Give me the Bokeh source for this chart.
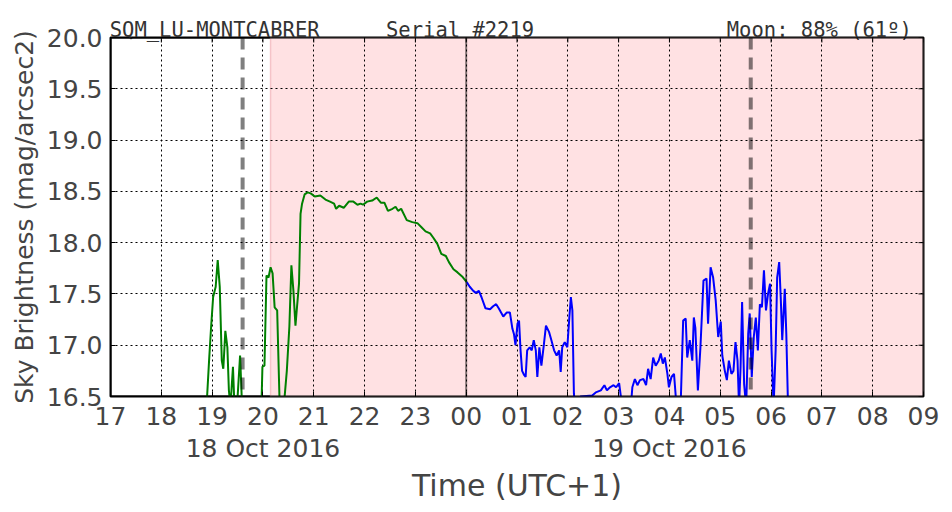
import math
from bokeh.plotting import figure
from bokeh.models import Range1d, FixedTicker, LinearAxis, Span, BoxAnnotation, Grid
from bokeh.embed import file_html
from bokeh.resources import INLINE

# ---- data ----
hour_ticks = list(range(17, 34))
hour_labels = ["17", "18", "19", "20", "21", "22", "23", "00", "01", "02",
               "03", "04", "05", "06", "07", "08", "09"]
date_ticks = [20, 28]
date_labels = ["18 Oct 2016", "19 Oct 2016"]
mag_ticks = [16.5, 17.0, 17.5, 18.0, 18.5, 19.0, 19.5, 20.0]
mag_labels = ["16.5", "17.0", "17.5", "18.0", "18.5", "19.0", "19.5", "20.0"]

header_texts = ["SQM_LU-MONTCABRER", "Serial #2219", "Moon: 88% (61º)"]
header_pos = [19.05, 23.88, 30.95]   # text centres along the time axis

night_start = 20.15          # shaded (night) period start
moon_events = [19.6, 29.6]   # dashed markers
midnight = 24.0

green_t = [18.89, 18.94, 18.98, 19.02, 19.07, 19.11, 19.15, 19.19, 19.22, 19.26,
           19.30, 19.33, 19.36, 19.41, 19.44, 19.49, 19.55, 19.59, 19.97, 19.99,
           20.03, 20.07, 20.11, 20.15, 20.19, 20.23, 20.28, 20.33, 20.41, 20.47,
           20.52, 20.56, 20.60, 20.64, 20.67, 20.71, 20.74, 20.77, 20.82, 20.88,
           20.94, 21.02, 21.13, 21.23, 21.32, 21.40, 21.44, 21.50, 21.59, 21.69,
           21.78, 21.86, 21.92, 21.97, 22.05, 22.15, 22.24, 22.32, 22.39, 22.46,
           22.55, 22.61, 22.66, 22.72, 22.83, 22.94, 23.04, 23.12, 23.20, 23.29,
           23.35, 23.43, 23.51, 23.60, 23.66, 23.75, 23.83, 23.92, 24.01]
green_v = [16.40, 16.85, 17.18, 17.47, 17.57, 17.83, 17.57, 16.85, 16.77, 17.14,
           16.98, 16.56, 16.40, 16.79, 16.40, 16.40, 16.90, 16.40, 16.40, 16.79,
           16.80, 17.68, 17.66, 17.76, 17.70, 17.37, 17.34, 16.40, 16.40, 16.75,
           17.18, 17.78, 17.53, 17.19, 17.37, 17.60, 18.28, 18.38, 18.47, 18.49,
           18.48, 18.45, 18.46, 18.42, 18.40, 18.38, 18.33, 18.36, 18.34, 18.40,
           18.40, 18.37, 18.38, 18.37, 18.40, 18.41, 18.44, 18.39, 18.39, 18.31,
           18.33, 18.35, 18.31, 18.33, 18.22, 18.20, 18.19, 18.15, 18.11, 18.09,
           18.05, 17.99, 17.89, 17.87, 17.81, 17.74, 17.71, 17.67, 17.615]

blue_t = [24.01, 24.07, 24.14, 24.19, 24.25, 24.30, 24.38, 24.47, 24.53, 24.59,
          24.64, 24.73, 24.80, 24.86, 24.91, 24.94, 24.97, 25.01, 25.04, 25.07,
          25.10, 25.14, 25.17, 25.20, 25.25, 25.29, 25.33, 25.37, 25.40, 25.44,
          25.48, 25.53, 25.57, 25.63, 25.67, 25.73, 25.78, 25.83, 25.86, 25.89,
          25.94, 25.99, 26.03, 26.06, 26.09, 26.12, 26.14, 26.22, 26.25, 26.48,
          26.55, 26.65, 26.72, 26.77, 26.83, 26.90, 26.95, 27.01, 27.07, 27.24,
          27.27, 27.32, 27.37, 27.42, 27.49, 27.54, 27.58, 27.63, 27.68, 27.73,
          27.79, 27.83, 27.87, 27.91, 27.96, 27.99, 28.04, 28.09, 28.14, 28.22,
          28.27, 28.32, 28.35, 28.40, 28.45, 28.48, 28.51, 28.56, 28.61, 28.67,
          28.73, 28.76, 28.81, 28.86, 28.91, 28.96, 29.01, 29.04, 29.09, 29.13,
          29.17, 29.22, 29.26, 29.30, 29.34, 29.37, 29.40, 29.43, 29.47, 29.51,
          29.55, 29.58, 29.62, 29.66, 29.70, 29.74, 29.78, 29.82, 29.86, 29.90,
          29.94, 29.98, 30.01, 30.05, 30.09, 30.12, 30.16, 30.19, 30.22, 30.27,
          30.30, 30.33, 30.36]
blue_v = [17.615, 17.57, 17.53, 17.51, 17.53, 17.47, 17.36, 17.35, 17.38, 17.40,
          17.36, 17.28, 17.32, 17.32, 17.16, 17.11, 17.00, 17.21, 17.24, 16.95,
          16.75, 16.71, 16.69, 16.95, 16.98, 16.95, 17.05, 16.95, 16.69, 16.98,
          16.80, 17.01, 17.19, 17.13, 17.06, 16.95, 16.90, 16.95, 16.74, 16.98,
          17.03, 16.98, 17.27, 17.47, 17.34, 16.53, 16.40, 16.40, 16.50, 16.51,
          16.54, 16.56, 16.61, 16.56, 16.59, 16.61, 16.59, 16.63, 16.40, 16.40,
          16.59, 16.67, 16.61, 16.66, 16.67, 16.61, 16.77, 16.67, 16.88, 16.80,
          16.85, 16.92, 16.82, 16.88, 16.72, 16.59, 16.69, 16.72, 16.40, 16.40,
          17.24, 17.26, 16.88, 17.05, 16.85, 17.27, 17.17, 16.56, 16.98, 17.63,
          17.65, 17.21, 17.76, 17.66, 17.44, 17.08, 17.23, 16.90, 16.75, 16.66,
          16.85, 16.72, 16.75, 17.03, 16.85, 16.40, 16.79, 17.42, 16.62, 16.40,
          17.11, 17.31, 16.69, 17.08, 17.27, 16.95, 17.40, 17.37, 17.73, 17.34,
          17.50, 17.60, 16.95, 16.40, 16.95, 17.66, 17.81, 17.47, 17.05, 17.55,
          17.11, 16.49, 16.40]

FONT = "DejaVu Sans"
MONO = "DejaVu Sans Mono"
x0, x1 = hour_ticks[0], hour_ticks[-1]
y0, y1 = mag_ticks[0], mag_ticks[-1]

p = figure(width=952, height=512, x_range=Range1d(x0, x1), y_range=Range1d(y0, y1),
           output_backend="svg", toolbar_location=None, x_axis_type=None, y_axis_type=None,
           min_border_left=110, min_border_right=29, min_border_top=37, min_border_bottom=116,
           background_fill_color="white", border_fill_color="white")
p.outline_line_color = "black"
p.outline_line_width = 2

# shaded night
p.add_layout(BoxAnnotation(left=night_start, fill_color="#ffe1e3", fill_alpha=1.0,
                           line_color=None, level="underlay"))
p.add_layout(Span(location=night_start, dimension="height", line_color="#f5c3c8",
                  line_width=1.5, level="underlay"))

xt = FixedTicker(ticks=hour_ticks)
yt = FixedTicker(ticks=mag_ticks)

for dim, tk in ((0, xt), (1, yt)):
    p.add_layout(Grid(dimension=dim, ticker=tk, grid_line_color="black", grid_line_dash="2 3",
                      grid_line_width=1, level="underlay"))

p.line(green_t, green_v, line_color="#008000", line_width=2)
p.line(blue_t, blue_v, line_color="#0000ff", line_width=2)

for m in moon_events:
    p.add_layout(Span(location=m, dimension="height", line_color="black", line_alpha=0.5,
                      line_width=4, line_dash="12 8"))
p.add_layout(Span(location=midnight, dimension="height", line_color="black", line_alpha=0.5,
                  line_width=2))

# inner tick marks on the top and right edges
p.scatter(x=hour_ticks, y=[y1] * len(hour_ticks), marker="dash", size=10,
          angle=math.pi / 2, line_color="black", line_width=1)
p.scatter(x=[x1] * len(mag_ticks), y=mag_ticks, marker="dash", size=10,
          line_color="black", line_width=1)

# frame drawn on top of the shading
p.add_layout(Span(location=x0, dimension="height", line_color="black", line_width=2))
p.add_layout(Span(location=x1, dimension="height", line_color="black", line_width=2))
p.add_layout(Span(location=y0, dimension="width", line_color="black", line_width=2))
p.add_layout(Span(location=y1, dimension="width", line_color="black", line_width=2))

def style_ticks(ax):
    ax.major_tick_in = 5
    ax.major_tick_out = 0
    ax.minor_tick_line_color = None
    ax.axis_line_color = None
    ax.major_tick_line_color = "black"
    ax.major_tick_line_width = 1

xaxis = LinearAxis(ticker=xt, major_label_overrides=dict(zip(hour_ticks, hour_labels)))
style_ticks(xaxis)
xaxis.major_label_text_font = FONT
xaxis.major_label_text_font_size = "25px"
xaxis.major_label_standoff = 10
p.add_layout(xaxis, "below")

daxis = LinearAxis(ticker=FixedTicker(ticks=date_ticks),
                   major_label_overrides=dict(zip(date_ticks, date_labels)),
                   axis_label="Time (UTC+1)")
daxis.major_tick_line_color = None
daxis.minor_tick_line_color = None
daxis.axis_line_color = None
daxis.major_label_standoff = 0
daxis.major_label_text_font = FONT
daxis.major_label_text_font_size = "25px"
daxis.axis_label_text_font = FONT
daxis.axis_label_text_font_size = "30px"
daxis.axis_label_text_font_style = "normal"
daxis.axis_label_standoff = 2
p.add_layout(daxis, "below")

yaxis = LinearAxis(ticker=yt, major_label_overrides=dict(zip(mag_ticks, mag_labels)),
                   axis_label="Sky Brightness (mag/arcsec2)")
style_ticks(yaxis)
yaxis.major_label_text_font = FONT
yaxis.major_label_text_font_size = "25px"
yaxis.major_label_standoff = 8
yaxis.axis_label_text_font = FONT
yaxis.axis_label_text_font_size = "25px"
yaxis.axis_label_text_font_style = "normal"
yaxis.axis_label_standoff = 5
p.add_layout(yaxis, "left")

# header line above the frame
haxis = LinearAxis(ticker=FixedTicker(ticks=header_pos),
                   major_label_overrides=dict(zip(header_pos, header_texts)))
haxis.major_tick_line_color = None
haxis.minor_tick_line_color = None
haxis.axis_line_color = None
haxis.major_label_standoff = -10
haxis.major_label_text_font = MONO
haxis.major_label_text_font_size = "20.5px"
haxis.major_label_text_color = "#333333"
p.add_layout(haxis, "above")

open("out.html", "w").write(file_html(p, INLINE))
